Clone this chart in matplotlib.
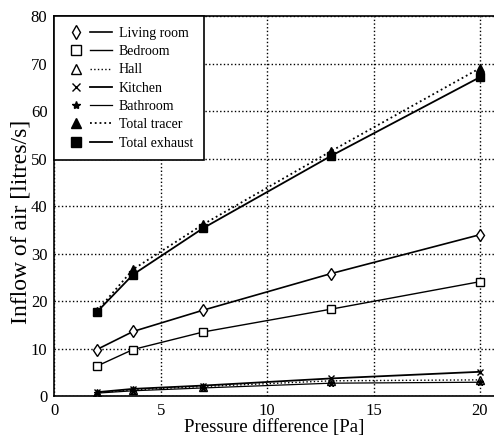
import matplotlib
matplotlib.use("Agg")
import matplotlib.pyplot as plt
from matplotlib.lines import Line2D
from matplotlib.legend_handler import HandlerTuple

plt.rcParams['font.family'] = ['Liberation Serif', 'DejaVu Serif']

pressure = [2, 3.7, 7, 13, 20]
living_room = [9.8, 13.6, 18.1, 25.8, 34.0]
bedroom = [6.3, 9.8, 13.5, 18.3, 24.1]
hall = [0.7, 1.3, 2.0, 3.2, 3.4]
kitchen = [0.8, 1.5, 2.2, 3.7, 5.1]
bathroom = [0.6, 1.1, 1.7, 2.7, 2.9]
total_tracer = [17.9, 26.7, 36.2, 51.6, 69.1]
total_exhaust = [17.7, 25.6, 35.4, 50.6, 67.2]

series = [
    ("Living room", living_room, dict(marker='d', mfc='white', ls='-', lw=1.2, ms=6)),
    ("Bedroom", bedroom, dict(marker='s', mfc='white', ls='-', lw=1.0, ms=5.5)),
    ("Hall", hall, dict(marker='^', mfc='white', ls=':', lw=1.0, ms=5.5)),
    ("Kitchen", kitchen, dict(marker='x', ls='-', lw=1.3, ms=5)),
    ("Bathroom", bathroom, dict(marker='*', ls='-', lw=0.9, ms=5)),
    ("Total tracer", total_tracer, dict(marker='^', mfc='black', ls=':', lw=1.3, ms=6)),
    ("Total exhaust", total_exhaust, dict(marker='s', mfc='black', ls='-', lw=1.3, ms=5.5)),
]

fig = plt.figure(figsize=(4.94, 4.38), dpi=100)
ax = fig.add_axes([0.110, 0.0959, 0.89, 0.8665])

handles = []
labels = []
for name, vals, st in series:
    ax.plot(pressure, vals, color='black', mec='black', **st)
    mk = Line2D([], [], color='black', mec='black', ls='none',
                marker=st['marker'], mfc=st.get('mfc', 'black'), ms=st['ms'] + 1)
    ln = Line2D([], [], color='black', ls=st['ls'], lw=st['lw'])
    handles.append((mk, ln))
    labels.append(name)

ax.set_xlim(0, 20.66)
ax.set_ylim(0, 80)
ax.set_xticks([0, 5, 10, 15, 20])
ax.set_yticks(range(0, 81, 10))
ax.grid(True, color='black', ls=':', lw=1.0)
ax.spines['right'].set_visible(False)
for s in ['left', 'bottom', 'top']:
    ax.spines[s].set_linewidth(1.2)
ax.tick_params(direction='in', length=0, labelsize=12, pad=5)
ax.set_xlabel("Pressure difference [Pa]", fontsize=13.5, labelpad=0)
ax.set_ylabel("Inflow of air [litres/s]", fontsize=17, labelpad=2)
ax.yaxis.set_label_coords(-0.052, 0.46)

leg = ax.legend(handles, labels, handler_map={tuple: HandlerTuple(ndivide=None, pad=0.3)},
                loc='upper left', fontsize=10, frameon=True, fancybox=False,
                edgecolor='black', framealpha=1, borderaxespad=0, handlelength=3.4,
                handletextpad=0.5, labelspacing=0.38, borderpad=0.75)
leg.get_frame().set_linewidth(1.2)

fig.savefig("out.png", dpi=100)
